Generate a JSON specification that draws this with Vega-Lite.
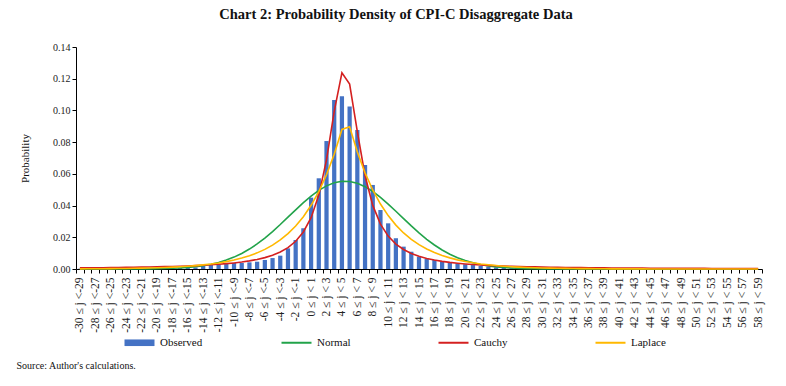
{
  "$schema": "https://vega.github.io/schema/vega-lite/v6.json",
  "width": 686,
  "height": 222,
  "autosize": {"type": "none"},
  "padding": {"left": 76, "top": 47, "right": 24, "bottom": 117},
  "background": "white",
  "title": {
    "text": "Chart 2: Probability Density of CPI-C Disaggregate Data",
    "font": "Liberation Serif",
    "fontSize": 14.5,
    "fontWeight": "bold",
    "color": "#111111",
    "anchor": "middle",
    "dx": -23,
    "offset": 20
  },
  "data": {
    "values": [
      {"r": "-30 ≤ j <-29", "o": 0.0002, "n": 0, "c": 0.00068, "l": 0.00011},
      {"r": "-29 ≤ j <-28", "o": 0.0002, "n": 0, "c": 0.00073, "l": 0.00014},
      {"r": "-28 ≤ j <-27", "o": 0.0002, "n": 0, "c": 0.00077, "l": 0.00017},
      {"r": "-27 ≤ j <-26", "o": 0.0002, "n": 0.00001, "c": 0.00082, "l": 0.0002},
      {"r": "-26 ≤ j <-25", "o": 0.0003, "n": 0.00001, "c": 0.00087, "l": 0.00025},
      {"r": "-25 ≤ j <-24", "o": 0.0003, "n": 0.00002, "c": 0.00093, "l": 0.0003},
      {"r": "-24 ≤ j <-23", "o": 0.0003, "n": 0.00003, "c": 0.001, "l": 0.00036},
      {"r": "-23 ≤ j <-22", "o": 0.0003, "n": 0.00004, "c": 0.00107, "l": 0.00044},
      {"r": "-22 ≤ j <-21", "o": 0.0004, "n": 0.00007, "c": 0.00116, "l": 0.00054},
      {"r": "-21 ≤ j <-20", "o": 0.0004, "n": 0.00011, "c": 0.00125, "l": 0.00065},
      {"r": "-20 ≤ j <-19", "o": 0.0005, "n": 0.00018, "c": 0.00135, "l": 0.0008},
      {"r": "-19 ≤ j <-18", "o": 0.0005, "n": 0.00028, "c": 0.00147, "l": 0.00097},
      {"r": "-18 ≤ j <-17", "o": 0.0006, "n": 0.00044, "c": 0.0016, "l": 0.00118},
      {"r": "-17 ≤ j <-16", "o": 0.0007, "n": 0.00067, "c": 0.00175, "l": 0.00143},
      {"r": "-16 ≤ j <-15", "o": 0.0009, "n": 0.001, "c": 0.00193, "l": 0.00174},
      {"r": "-15 ≤ j <-14", "o": 0.001, "n": 0.00147, "c": 0.00213, "l": 0.00212},
      {"r": "-14 ≤ j <-13", "o": 0.0019, "n": 0.00212, "c": 0.00236, "l": 0.00258},
      {"r": "-13 ≤ j <-12", "o": 0.0025, "n": 0.00299, "c": 0.00264, "l": 0.00314},
      {"r": "-12 ≤ j <-11", "o": 0.003, "n": 0.00414, "c": 0.00297, "l": 0.00382},
      {"r": "-11 ≤ j <-10", "o": 0.0033, "n": 0.00562, "c": 0.00336, "l": 0.00465},
      {"r": "-10 ≤ j <-9", "o": 0.0038, "n": 0.0075, "c": 0.00383, "l": 0.00565},
      {"r": "-9 ≤ j <-8", "o": 0.0038, "n": 0.0098, "c": 0.0044, "l": 0.00688},
      {"r": "-8 ≤ j <-7", "o": 0.0042, "n": 0.01257, "c": 0.00512, "l": 0.00837},
      {"r": "-7 ≤ j <-6", "o": 0.0046, "n": 0.01581, "c": 0.00602, "l": 0.01018},
      {"r": "-6 ≤ j <-5", "o": 0.0057, "n": 0.01952, "c": 0.00717, "l": 0.01238},
      {"r": "-5 ≤ j <-4", "o": 0.0069, "n": 0.02363, "c": 0.00869, "l": 0.01507},
      {"r": "-4 ≤ j <-3", "o": 0.0084, "n": 0.02805, "c": 0.01072, "l": 0.01833},
      {"r": "-3 ≤ j <-2", "o": 0.013, "n": 0.03268, "c": 0.01351, "l": 0.0223},
      {"r": "-2 ≤ j <-1", "o": 0.0183, "n": 0.03732, "c": 0.0175, "l": 0.02713},
      {"r": "-1 ≤ j < 0", "o": 0.0257, "n": 0.04182, "c": 0.02338, "l": 0.03301},
      {"r": "0 ≤ j < 1", "o": 0.045, "n": 0.04597, "c": 0.03239, "l": 0.04016},
      {"r": "1 ≤ j < 2", "o": 0.0572, "n": 0.04956, "c": 0.0466, "l": 0.04886},
      {"r": "2 ≤ j < 3", "o": 0.0807, "n": 0.05242, "c": 0.06886, "l": 0.05944},
      {"r": "3 ≤ j < 4", "o": 0.1066, "n": 0.05437, "c": 0.09938, "l": 0.07232},
      {"r": "4 ≤ j < 5", "o": 0.109, "n": 0.05532, "c": 0.12377, "l": 0.08798},
      {"r": "5 ≤ j < 6", "o": 0.1024, "n": 0.05522, "c": 0.11661, "l": 0.08972},
      {"r": "6 ≤ j < 7", "o": 0.0877, "n": 0.05406, "c": 0.08659, "l": 0.07375},
      {"r": "7 ≤ j < 8", "o": 0.0656, "n": 0.05191, "c": 0.05882, "l": 0.06062},
      {"r": "8 ≤ j < 9", "o": 0.053, "n": 0.0489, "c": 0.04011, "l": 0.04982},
      {"r": "9 ≤ j < 10", "o": 0.0372, "n": 0.04518, "c": 0.0283, "l": 0.04095},
      {"r": "10 ≤ j < 11", "o": 0.0288, "n": 0.04095, "c": 0.02074, "l": 0.03366},
      {"r": "11 ≤ j < 12", "o": 0.0194, "n": 0.0364, "c": 0.01573, "l": 0.02767},
      {"r": "12 ≤ j < 13", "o": 0.0141, "n": 0.03174, "c": 0.01228, "l": 0.02274},
      {"r": "13 ≤ j < 14", "o": 0.0109, "n": 0.02715, "c": 0.00983, "l": 0.01869},
      {"r": "14 ≤ j < 15", "o": 0.0078, "n": 0.02278, "c": 0.00803, "l": 0.01536},
      {"r": "15 ≤ j < 16", "o": 0.0063, "n": 0.01875, "c": 0.00668, "l": 0.01263},
      {"r": "16 ≤ j < 17", "o": 0.0057, "n": 0.01513, "c": 0.00563, "l": 0.01038},
      {"r": "17 ≤ j < 18", "o": 0.0046, "n": 0.01199, "c": 0.00481, "l": 0.00853},
      {"r": "18 ≤ j < 19", "o": 0.004, "n": 0.00931, "c": 0.00416, "l": 0.00701},
      {"r": "19 ≤ j < 20", "o": 0.0036, "n": 0.00709, "c": 0.00363, "l": 0.00576},
      {"r": "20 ≤ j < 21", "o": 0.003, "n": 0.0053, "c": 0.00319, "l": 0.00474},
      {"r": "21 ≤ j < 22", "o": 0.0025, "n": 0.00388, "c": 0.00283, "l": 0.00389},
      {"r": "22 ≤ j < 23", "o": 0.0019, "n": 0.00279, "c": 0.00252, "l": 0.0032},
      {"r": "23 ≤ j < 24", "o": 0.0015, "n": 0.00197, "c": 0.00227, "l": 0.00263},
      {"r": "24 ≤ j < 25", "o": 0.001, "n": 0.00136, "c": 0.00205, "l": 0.00216},
      {"r": "25 ≤ j < 26", "o": 0.0008, "n": 0.00093, "c": 0.00186, "l": 0.00178},
      {"r": "26 ≤ j < 27", "o": 0.0006, "n": 0.00062, "c": 0.00169, "l": 0.00146},
      {"r": "27 ≤ j < 28", "o": 0.0005, "n": 0.0004, "c": 0.00155, "l": 0.0012},
      {"r": "28 ≤ j < 29", "o": 0.0004, "n": 0.00026, "c": 0.00142, "l": 0.00099},
      {"r": "29 ≤ j < 30", "o": 0.0003, "n": 0.00016, "c": 0.00131, "l": 0.00081},
      {"r": "30 ≤ j < 31", "o": 0.0003, "n": 0.0001, "c": 0.00121, "l": 0.00067},
      {"r": "31 ≤ j < 32", "o": 0.0002, "n": 0.00006, "c": 0.00112, "l": 0.00055},
      {"r": "32 ≤ j < 33", "o": 0.0001, "n": 0.00004, "c": 0.00104, "l": 0.00045},
      {"r": "33 ≤ j < 34", "o": 0.0001, "n": 0.00002, "c": 0.00097, "l": 0.00037},
      {"r": "34 ≤ j < 35", "o": 0.0001, "n": 0.00001, "c": 0.00091, "l": 0.0003},
      {"r": "35 ≤ j < 36", "o": 0.0001, "n": 0, "c": 0.00085, "l": 0.00025},
      {"r": "36 ≤ j < 37", "o": 0, "n": 0, "c": 0.0008, "l": 0.00021},
      {"r": "37 ≤ j < 38", "o": 0, "n": 0, "c": 0.00075, "l": 0.00017},
      {"r": "38 ≤ j < 39", "o": 0, "n": 0, "c": 0.00071, "l": 0.00014},
      {"r": "39 ≤ j < 40", "o": 0, "n": 0, "c": 0.00067, "l": 0.00011},
      {"r": "40 ≤ j < 41", "o": 0, "n": 0, "c": 0.00063, "l": 0.00009},
      {"r": "41 ≤ j < 42", "o": 0, "n": 0, "c": 0.0006, "l": 0.00008},
      {"r": "42 ≤ j < 43", "o": 0, "n": 0, "c": 0.00057, "l": 0.00006},
      {"r": "43 ≤ j < 44", "o": 0, "n": 0, "c": 0.00054, "l": 0.00005},
      {"r": "44 ≤ j < 45", "o": 0, "n": 0, "c": 0.00051, "l": 0.00004},
      {"r": "45 ≤ j < 46", "o": 0, "n": 0, "c": 0.00049, "l": 0.00004},
      {"r": "46 ≤ j < 47", "o": 0, "n": 0, "c": 0.00046, "l": 0.00003},
      {"r": "47 ≤ j < 48", "o": 0, "n": 0, "c": 0.00044, "l": 0.00002},
      {"r": "48 ≤ j < 49", "o": 0, "n": 0, "c": 0.00042, "l": 0.00002},
      {"r": "49 ≤ j < 50", "o": 0, "n": 0, "c": 0.0004, "l": 0.00002},
      {"r": "50 ≤ j < 51", "o": 0, "n": 0, "c": 0.00039, "l": 0.00001},
      {"r": "51 ≤ j < 52", "o": 0, "n": 0, "c": 0.00037, "l": 0.00001},
      {"r": "52 ≤ j < 53", "o": 0, "n": 0, "c": 0.00035, "l": 0.00001},
      {"r": "53 ≤ j < 54", "o": 0, "n": 0, "c": 0.00034, "l": 0.00001},
      {"r": "54 ≤ j < 55", "o": 0, "n": 0, "c": 0.00033, "l": 0.00001},
      {"r": "55 ≤ j < 56", "o": 0, "n": 0, "c": 0.00031, "l": 0},
      {"r": "56 ≤ j < 57", "o": 0, "n": 0, "c": 0.0003, "l": 0},
      {"r": "57 ≤ j < 58", "o": 0, "n": 0, "c": 0.00029, "l": 0},
      {"r": "58 ≤ j < 59", "o": 0, "n": 0, "c": 0.00028, "l": 0}
    ]
  },
  "encoding": {
    "x": {
      "field": "r",
      "type": "nominal",
      "sort": null,
      "scale": {"paddingInner": 0, "paddingOuter": 0},
      "axis": {
        "title": "Source: Author's calculations.",
        "titleFontSize": 10,
        "titleFontWeight": "normal",
        "titleColor": "#111111",
        "titleAnchor": "start",
        "titleAlign": "left",
        "titleBaseline": "middle",
        "titleX": -60,
        "titleY": 96,
        "labelAngle": -90,
        "labelFontSize": 11.5,
        "labelColor": "#222222",
        "labelExpr": "parseInt(datum.value) % 2 == 0 ? datum.value : ''",
        "labelPadding": 4,
        "tickBand": "extent",
        "tickSize": 4,
        "tickColor": "#000000",
        "domainColor": "#000000",
        "labelOverlap": false
      }
    }
  },
  "layer": [
    {
      "mark": {"type": "bar", "width": {"band": 0.55}},
      "encoding": {
        "y": {
          "field": "o",
          "type": "quantitative",
          "scale": {"domain": [0, 0.14], "nice": false},
          "axis": {
            "title": "Probability",
            "titleFontSize": 11,
            "titleFontWeight": "normal",
            "titleColor": "#111111",
            "titlePadding": 22,
            "values": [0, 0.02, 0.04, 0.06, 0.08, 0.1, 0.12, 0.14],
            "format": ".2f",
            "labelFontSize": 10,
            "labelColor": "#222222",
            "labelOverlap": false,
            "tickSize": 4,
            "tickColor": "#000000",
            "domainColor": "#000000",
            "grid": false
          }
        },
        "color": {
          "datum": "Observed",
          "legend": {
            "labelOffset": 15,
            "encode": {
              "symbols": {
                "update": {
                  "shape": {"signal": "datum.value === 'Observed' ? 'M-1,-0.22H1V0.22H-1Z' : 'stroke'"},
                  "fill": {"scale": "color", "field": "value"},
                  "stroke": {"scale": "color", "field": "value"},
                  "strokeWidth": {"signal": "datum.value === 'Observed' ? 0 : 2"}
                }
              }
            }
          }
        }
      }
    },
    {
      "mark": {"type": "line", "strokeWidth": 1.6},
      "encoding": {
        "y": {
          "field": "n",
          "type": "quantitative",
          "scale": {"domain": [0, 0.14], "nice": false},
          "axis": {
            "title": "Probability",
            "titleFontSize": 11,
            "titleFontWeight": "normal",
            "titleColor": "#111111",
            "titlePadding": 22,
            "values": [0, 0.02, 0.04, 0.06, 0.08, 0.1, 0.12, 0.14],
            "format": ".2f",
            "labelFontSize": 10,
            "labelColor": "#222222",
            "labelOverlap": false,
            "tickSize": 4,
            "tickColor": "#000000",
            "domainColor": "#000000",
            "grid": false
          }
        },
        "color": {"datum": "Normal"}
      }
    },
    {
      "mark": {"type": "line", "strokeWidth": 1.6},
      "encoding": {
        "y": {
          "field": "c",
          "type": "quantitative",
          "scale": {"domain": [0, 0.14], "nice": false},
          "axis": {
            "title": "Probability",
            "titleFontSize": 11,
            "titleFontWeight": "normal",
            "titleColor": "#111111",
            "titlePadding": 22,
            "values": [0, 0.02, 0.04, 0.06, 0.08, 0.1, 0.12, 0.14],
            "format": ".2f",
            "labelFontSize": 10,
            "labelColor": "#222222",
            "labelOverlap": false,
            "tickSize": 4,
            "tickColor": "#000000",
            "domainColor": "#000000",
            "grid": false
          }
        },
        "color": {"datum": "Cauchy"}
      }
    },
    {
      "mark": {"type": "line", "strokeWidth": 1.6},
      "encoding": {
        "y": {
          "field": "l",
          "type": "quantitative",
          "scale": {"domain": [0, 0.14], "nice": false},
          "axis": {
            "title": "Probability",
            "titleFontSize": 11,
            "titleFontWeight": "normal",
            "titleColor": "#111111",
            "titlePadding": 22,
            "values": [0, 0.02, 0.04, 0.06, 0.08, 0.1, 0.12, 0.14],
            "format": ".2f",
            "labelFontSize": 10,
            "labelColor": "#222222",
            "labelOverlap": false,
            "tickSize": 4,
            "tickColor": "#000000",
            "domainColor": "#000000",
            "grid": false
          }
        },
        "color": {"datum": "Laplace"}
      }
    }
  ],
  "resolve": {"scale": {"color": "shared"}},
  "config": {
    "font": "Liberation Serif",
    "view": {"stroke": null},
    "range": {"category": ["#4472C4", "#22A34A", "#D42020", "#FFB800"]},
    "legend": {
      "orient": "none",
      "legendX": 58,
      "legendY": 290,
      "direction": "horizontal",
      "title": null,
      "symbolType": "stroke",
      "symbolSize": 900,
      "labelFontSize": 11,
      "labelColor": "#111111",
      "columnPadding": 74,
      "gridAlign": "all"
    },
    "axisY": {"labelOverlap": false},
    "axis": {"labelFont": "Liberation Serif", "titleFont": "Liberation Serif"}
  }
}
